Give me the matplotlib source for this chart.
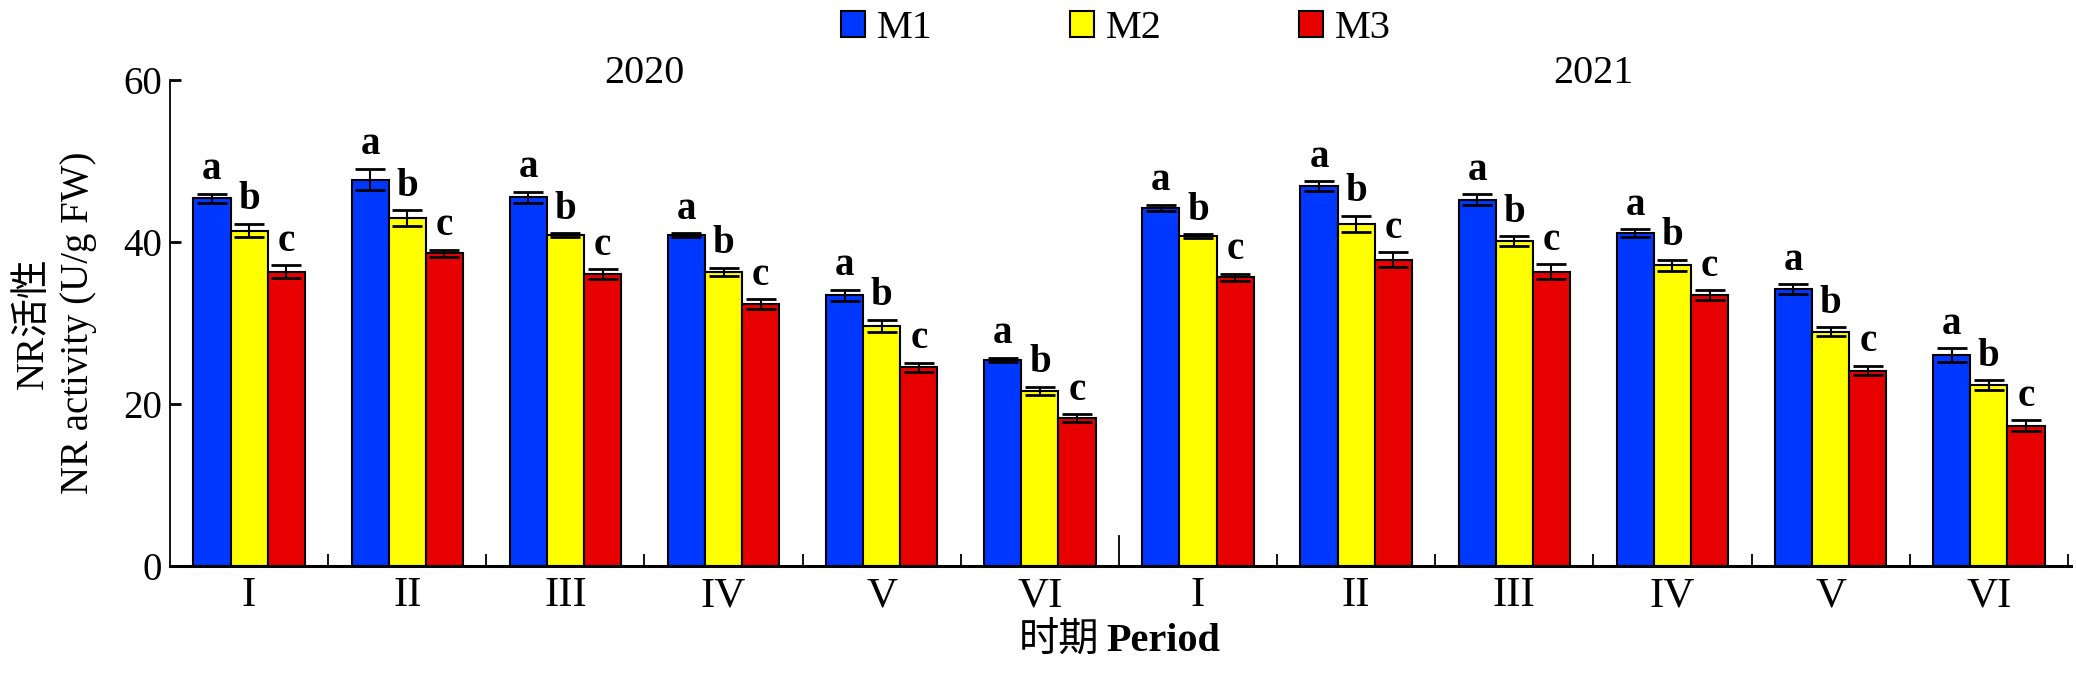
import numpy as np
import matplotlib.pyplot as plt

plt.rcParams['font.family'] = ['Liberation Serif', 'Noto Sans CJK SC']

periods = ['I', 'II', 'III', 'IV', 'V', 'VI', 'I', 'II', 'III', 'IV', 'V', 'VI']
years = ['2020', '2021']
treatments = ['M1', 'M2', 'M3']

# mean NR activity, 2020 I..VI then 2021 I..VI
m1 = [45.4, 47.7, 45.5, 40.8, 33.4, 25.4, 44.2, 46.9, 45.2, 41.1, 34.2, 26.0]
m2 = [41.4, 42.9, 40.8, 36.3, 29.6, 21.6, 40.7, 42.2, 40.1, 37.1, 28.9, 22.3]
m3 = [36.3, 38.6, 36.0, 32.3, 24.5, 18.2, 35.6, 37.8, 36.3, 33.4, 24.1, 17.3]
m1_err = [0.55, 1.3, 0.7, 0.25, 0.7, 0.3, 0.35, 0.6, 0.7, 0.47, 0.58, 0.86]
m2_err = [0.82, 1.0, 0.25, 0.53, 0.74, 0.51, 0.25, 1.03, 0.6, 0.72, 0.53, 0.62]
m3_err = [0.8, 0.43, 0.64, 0.6, 0.53, 0.49, 0.47, 0.94, 0.94, 0.62, 0.6, 0.66]
letters = ['a', 'b', 'c']

colors = ['#0038ff', '#ffff00', '#e60000']

fig = plt.figure(figsize=(20.76, 6.73), dpi=100)
ax = fig.add_axes([0.0819, 0.1596, 0.9157, 0.7215])

x = np.arange(len(periods))
width = 0.235
for i, (vals, errs, color, name) in enumerate(zip([m1, m2, m3], [m1_err, m2_err, m3_err], colors, treatments)):
    pos = x + (i - 1) * width
    ax.bar(pos, vals, width=width, color=color, edgecolor='k', linewidth=1.5, label=name, zorder=2)
    ax.errorbar(pos, vals, yerr=errs, fmt='none', ecolor='k', elinewidth=1.5,
                capsize=11, capthick=2, zorder=3)
    for xp, v, e in zip(pos, vals, errs):
        ax.text(xp, v + e + 1.8, letters[i], ha='center', va='baseline',
                fontsize=28, fontweight='bold', zorder=4)

ax.set_xlim(-0.5, 11.52)
ax.set_ylim(0, 60)
ax.set_yticks([0, 20, 40, 60])
ax.set_xticks(x)
ax.set_xticklabels(periods, fontsize=31)
boundaries = [b + 0.5 for b in x if b != 5]
ax.set_xticks(boundaries, minor=True)
ax.tick_params(axis='x', which='major', length=0, pad=8)
ax.tick_params(axis='x', which='minor', direction='in', length=8.5, width=1.3)
ax.tick_params(axis='y', which='major', direction='in', length=8, width=2, labelsize=28, pad=6)
ax.axvline(5.5, ymin=0, ymax=0.06, color='k', lw=1.3)

for s in ['top', 'right']:
    ax.spines[s].set_visible(False)
ax.spines['left'].set_linewidth(1.3)
ax.spines['bottom'].set_linewidth(2.2)

for xc, yr in zip([2.5, 8.5], years):
    ax.text(xc, 60.8, yr, ha='center', va='center', fontsize=29, clip_on=False)

fig.text(56 / 2076, 0.52, 'NR活性\nNR activity (U/g FW)', rotation=90, ha='center', va='center',
         multialignment='center', fontsize=28, linespacing=1.3)
fig.text(1099 / 2076, 1 - 651 / 673, '时期', ha='right', va='baseline', fontsize=29)
fig.text(1106 / 2076, 1 - 651 / 673, 'Period', ha='left', va='baseline', fontsize=29, fontweight='bold')

fig.legend(loc='center', bbox_to_anchor=(0.5375, 0.957), ncol=3, frameon=False, fontsize=29,
           handlelength=0.6, handleheight=0.6, handletextpad=0.3, columnspacing=3.4)

fig.savefig('out.png', dpi=100)
